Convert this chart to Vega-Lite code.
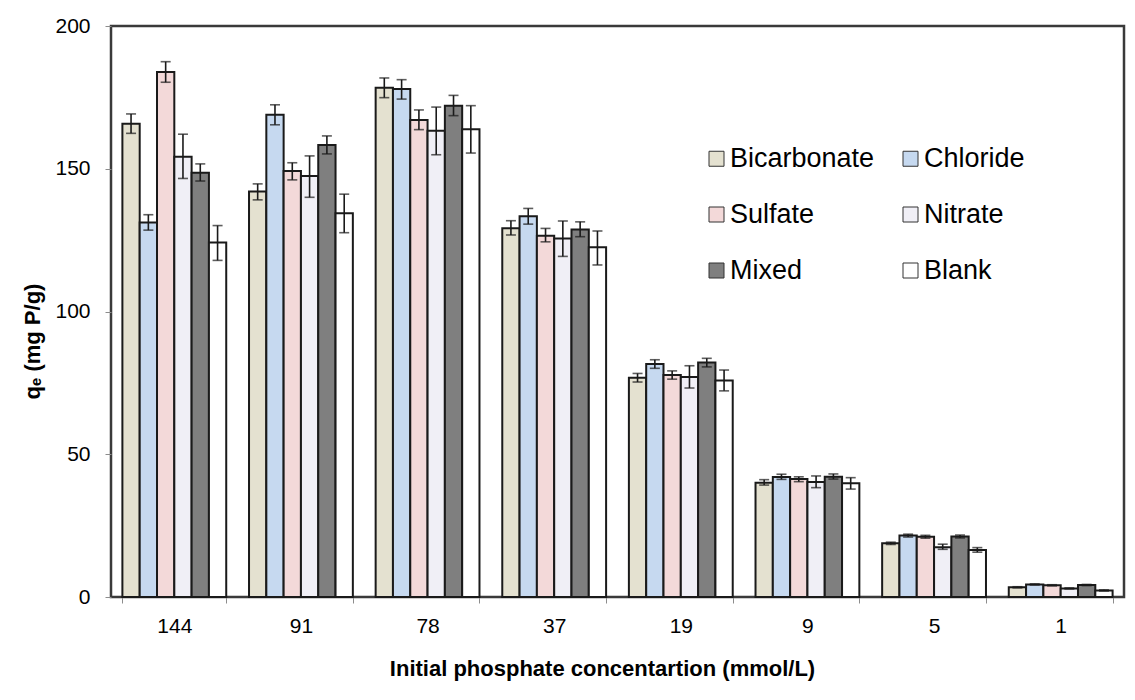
{
  "$schema": "https://vega.github.io/schema/vega-lite/v6.json",
  "width": 1013,
  "height": 571,
  "autosize": {"type": "none"},
  "padding": {"left": 111, "top": 26, "right": 11, "bottom": 103},
  "background": "white",
  "config": {
    "font": "Liberation Sans",
    "view": {"stroke": "#3a3a3a", "strokeWidth": 2.5},
    "axis": {"labelColor": "black", "titleColor": "black", "grid": false}
  },
  "data": {
    "values": [
      {"conc": "144", "anion": "Bicarbonate", "qe": 165.8, "lo": 162.4, "hi": 169.2},
      {"conc": "144", "anion": "Chloride", "qe": 131.2, "lo": 128.5, "hi": 133.9},
      {"conc": "144", "anion": "Sulfate", "qe": 183.9, "lo": 180.3, "hi": 187.5},
      {"conc": "144", "anion": "Nitrate", "qe": 154.2, "lo": 146.6, "hi": 162.1},
      {"conc": "144", "anion": "Mixed", "qe": 148.6, "lo": 145.7, "hi": 151.7},
      {"conc": "144", "anion": "Blank", "qe": 124.2, "lo": 117.9, "hi": 130.1},
      {"conc": "91", "anion": "Bicarbonate", "qe": 142.0, "lo": 139.1, "hi": 144.7},
      {"conc": "91", "anion": "Chloride", "qe": 168.9, "lo": 165.4, "hi": 172.4},
      {"conc": "91", "anion": "Sulfate", "qe": 149.2, "lo": 146.1, "hi": 152.1},
      {"conc": "91", "anion": "Nitrate", "qe": 147.5, "lo": 140.0, "hi": 154.5},
      {"conc": "91", "anion": "Mixed", "qe": 158.3, "lo": 155.2, "hi": 161.5},
      {"conc": "91", "anion": "Blank", "qe": 134.4, "lo": 127.6, "hi": 141.1},
      {"conc": "78", "anion": "Bicarbonate", "qe": 178.4, "lo": 174.9, "hi": 181.8},
      {"conc": "78", "anion": "Chloride", "qe": 177.9, "lo": 174.4, "hi": 181.2},
      {"conc": "78", "anion": "Sulfate", "qe": 167.1, "lo": 163.7, "hi": 170.6},
      {"conc": "78", "anion": "Nitrate", "qe": 163.3, "lo": 154.9, "hi": 171.6},
      {"conc": "78", "anion": "Mixed", "qe": 172.1, "lo": 168.6, "hi": 175.7},
      {"conc": "78", "anion": "Blank", "qe": 163.8, "lo": 155.5, "hi": 172.1},
      {"conc": "37", "anion": "Bicarbonate", "qe": 129.2, "lo": 126.8, "hi": 131.8},
      {"conc": "37", "anion": "Chloride", "qe": 133.4, "lo": 130.6, "hi": 136.1},
      {"conc": "37", "anion": "Sulfate", "qe": 126.5, "lo": 124.4, "hi": 129.1},
      {"conc": "37", "anion": "Nitrate", "qe": 125.6, "lo": 119.3, "hi": 131.7},
      {"conc": "37", "anion": "Mixed", "qe": 128.7, "lo": 126.2, "hi": 131.4},
      {"conc": "37", "anion": "Blank", "qe": 122.5, "lo": 116.3, "hi": 128.2},
      {"conc": "19", "anion": "Bicarbonate", "qe": 76.8, "lo": 75.3, "hi": 78.3},
      {"conc": "19", "anion": "Chloride", "qe": 81.6, "lo": 80.1, "hi": 83.1},
      {"conc": "19", "anion": "Sulfate", "qe": 77.8, "lo": 76.3, "hi": 79.2},
      {"conc": "19", "anion": "Nitrate", "qe": 77.1, "lo": 73.2, "hi": 81.0},
      {"conc": "19", "anion": "Mixed", "qe": 82.1, "lo": 80.6, "hi": 83.6},
      {"conc": "19", "anion": "Blank", "qe": 75.8, "lo": 72.2, "hi": 79.5},
      {"conc": "9", "anion": "Bicarbonate", "qe": 40.0, "lo": 39.2, "hi": 41.1},
      {"conc": "9", "anion": "Chloride", "qe": 42.0, "lo": 41.2, "hi": 43.0},
      {"conc": "9", "anion": "Sulfate", "qe": 41.3, "lo": 40.4, "hi": 42.1},
      {"conc": "9", "anion": "Nitrate", "qe": 40.3, "lo": 38.3, "hi": 42.4},
      {"conc": "9", "anion": "Mixed", "qe": 42.1, "lo": 41.3, "hi": 43.1},
      {"conc": "9", "anion": "Blank", "qe": 39.8, "lo": 37.8, "hi": 41.8},
      {"conc": "5", "anion": "Bicarbonate", "qe": 18.8, "lo": 18.4, "hi": 19.2},
      {"conc": "5", "anion": "Chloride", "qe": 21.5, "lo": 21.0, "hi": 22.0},
      {"conc": "5", "anion": "Sulfate", "qe": 21.1, "lo": 20.6, "hi": 21.6},
      {"conc": "5", "anion": "Nitrate", "qe": 17.4, "lo": 16.7, "hi": 18.5},
      {"conc": "5", "anion": "Mixed", "qe": 21.2, "lo": 20.7, "hi": 21.7},
      {"conc": "5", "anion": "Blank", "qe": 16.5, "lo": 15.7, "hi": 17.3},
      {"conc": "1", "anion": "Bicarbonate", "qe": 3.4, "lo": 3.2, "hi": 3.6},
      {"conc": "1", "anion": "Chloride", "qe": 4.4, "lo": 4.2, "hi": 4.6},
      {"conc": "1", "anion": "Sulfate", "qe": 4.1, "lo": 3.9, "hi": 4.3},
      {"conc": "1", "anion": "Nitrate", "qe": 3.0, "lo": 2.8, "hi": 3.2},
      {"conc": "1", "anion": "Mixed", "qe": 4.2, "lo": 4.0, "hi": 4.4},
      {"conc": "1", "anion": "Blank", "qe": 2.3, "lo": 2.1, "hi": 2.5}
    ]
  },
  "encoding": {
    "x": {
      "field": "conc", "type": "nominal",
      "sort": ["144", "91", "78", "37", "19", "9", "5", "1"],
      "scale": {"paddingInner": 0.18, "paddingOuter": 0.09},
      "axis": {
        "title": "Initial phosphate concentartion (mmol/L)",
        "titleFontSize": 22, "titleFontWeight": "bold",
        "titleX": 491, "titleY": 61,
        "labelAngle": 0, "labelFontSize": 21, "labelPadding": 12,
        "tickSize": 6, "tickColor": "#8c8c8c", "tickBand": "extent",
        "domain": false
      }
    },
    "xOffset": {
      "field": "anion", "type": "nominal",
      "sort": ["Bicarbonate", "Chloride", "Sulfate", "Nitrate", "Mixed", "Blank"]
    }
  },
  "layer": [
    {
      "mark": {"type": "bar", "stroke": "#1a1a1a", "strokeWidth": 2},
      "encoding": {
        "y": {
          "field": "qe", "type": "quantitative",
          "scale": {"domain": [0, 200], "nice": false},
          "axis": {
            "title": "qₑ (mg P/g)", "titleFontSize": 22, "titleFontWeight": "bold",
            "titleX": -79, "titleY": 315, "titleBaseline": "middle",
            "values": [0, 50, 100, 150, 200],
            "labelFontSize": 21, "labelPadding": 15,
            "tickSize": 6, "tickColor": "#8c8c8c", "domain": false
          }
        },
        "fill": {
          "field": "anion", "type": "nominal",
          "sort": ["Bicarbonate", "Chloride", "Sulfate", "Nitrate", "Mixed", "Blank"],
          "scale": {
            "domain": ["Bicarbonate", "Chloride", "Sulfate", "Nitrate", "Mixed", "Blank"],
            "range": ["#e4e1d0", "#c6d9f0", "#f3d9d9", "#f0eff6", "#7f7f7f", "#ffffff"]
          },
          "legend": {
            "title": null, "orient": "none", "legendX": 592, "legendY": 119,
            "direction": "horizontal",
            "columns": 2, "columnPadding": 22, "rowPadding": 28,
            "symbolType": "square", "symbolSize": 225,
            "symbolStrokeColor": "#333333", "symbolStrokeWidth": 1,
            "labelFontSize": 27, "labelOffset": 0, "labelColor": "black",
            "padding": 0
          }
        }
      }
    },
    {
      "mark": {"type": "rule", "color": "#1a1a1a", "strokeWidth": 1.6},
      "encoding": {
        "y": {"field": "lo", "type": "quantitative"},
        "y2": {"field": "hi"}
      }
    },
    {
      "mark": {"type": "tick", "color": "#1a1a1a", "thickness": 1.6, "size": 10},
      "encoding": {"y": {"field": "lo", "type": "quantitative"}}
    },
    {
      "mark": {"type": "tick", "color": "#1a1a1a", "thickness": 1.6, "size": 10},
      "encoding": {"y": {"field": "hi", "type": "quantitative"}}
    }
  ]
}
